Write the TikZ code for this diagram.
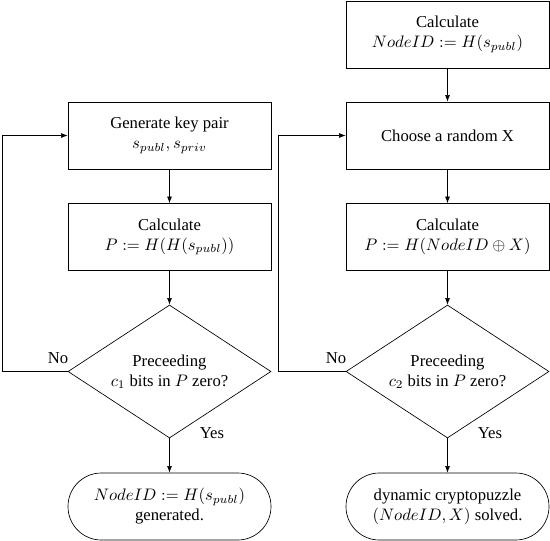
\documentclass[tikz,border=0pt]{standalone}
\usepackage{fontspec}
\setmainfont{Liberation Serif}
\usetikzlibrary{shapes.geometric,arrows.meta}
\begin{document}
\begin{tikzpicture}[x=0.6pt,y=-0.6pt,
  procbox/.style={draw,rectangle,minimum width=121.8pt,minimum height=40.2pt,align=center,inner sep=2pt},
  decbox/.style={draw,diamond,aspect=1.5,minimum width=121.8pt,minimum height=79.8pt,align=center,inner sep=0pt},
  termbox/.style={draw,rectangle,rounded corners=20pt,minimum width=121.8pt,minimum height=40.2pt,align=center,inner sep=2pt},
  flow/.style={-{Latex[length=4pt,width=3pt]}},
  lbl/.style={inner sep=0pt}]
\useasboundingbox (0,0) rectangle (550,541);
% left column
\node[procbox] (key) at (169.5,135.5) {Generate key pair\\$s_{publ},s_{priv}$};
\node[procbox] (calcL) at (169.5,237) {Calculate\\$P:=H(H(s_{publ}))$};
\node[decbox] (decL) at (169.5,371.5) {Preceeding\\$c_1$ bits in $P$ zero?};
\node[termbox] (termL) at (169.5,506.5) {$NodeID:=H(s_{publ})$\\generated.};
\coordinate (loopLb) at (2,371.5);
\coordinate (loopLt) at (2,135.5);
\draw[flow] (key) -- (calcL);
\draw[flow] (calcL) -- (decL);
\draw[flow] (decL) -- (termL);
\draw[flow] (decL.west) -- (loopLb) -- (loopLt) -- (key.west);
\node[lbl] (noL) at (58,358) {No};
\node[lbl] (yesL) at (212,433) {Yes};
% right column
\node[procbox] (calcN) at (447.5,34.5) {Calculate\\$NodeID:=H(s_{publ})$};
\node[procbox] (choose) at (447.5,135.5) {Choose a random X};
\node[procbox] (calcR) at (447.5,237) {Calculate\\$P:=H(NodeID\oplus X)$};
\node[decbox] (decR) at (447.5,371.5) {Preceeding\\$c_2$ bits in $P$ zero?};
\node[termbox] (termR) at (447.5,506.5) {dynamic cryptopuzzle\\$(NodeID,X)$ solved.};
\coordinate (loopRb) at (278.5,371.5);
\coordinate (loopRt) at (278.5,135.5);
\draw[flow] (calcN) -- (choose);
\draw[flow] (choose) -- (calcR);
\draw[flow] (calcR) -- (decR);
\draw[flow] (decR) -- (termR);
\draw[flow] (decR.west) -- (loopRb) -- (loopRt) -- (choose.west);
\node[lbl] (noR) at (336,358) {No};
\node[lbl] (yesR) at (490,433) {Yes};
\end{tikzpicture}
\end{document}
